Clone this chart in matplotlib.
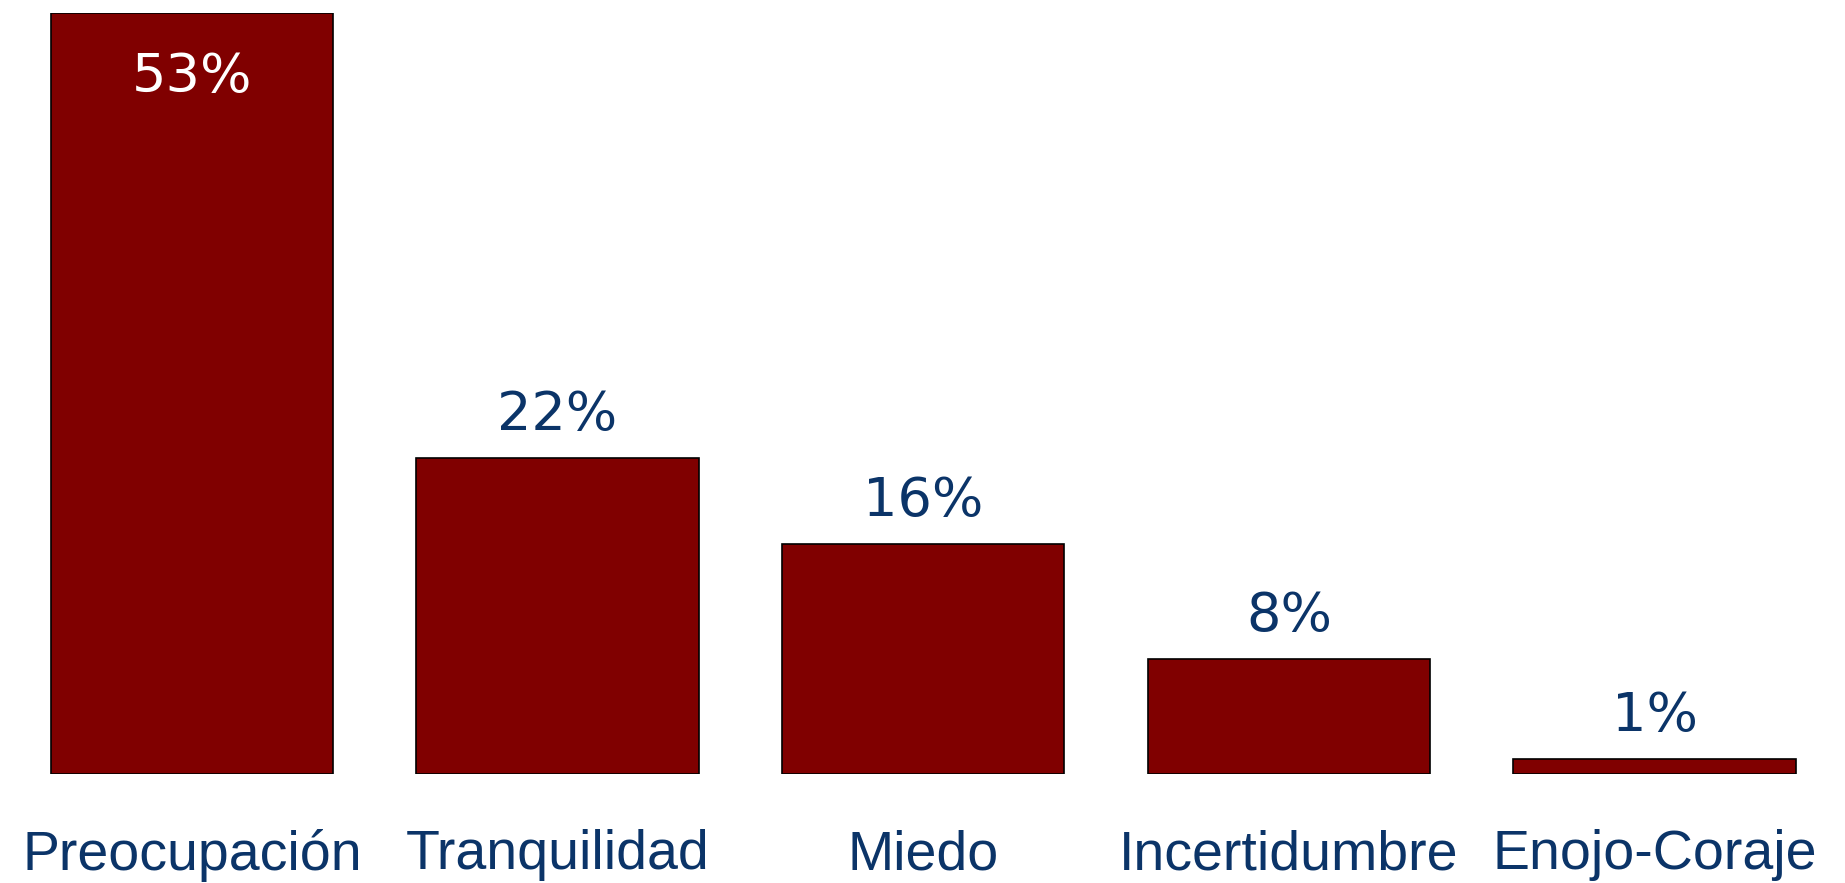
import matplotlib
matplotlib.use('Agg')
import matplotlib.pyplot as plt

categories = ['Preocupación', 'Tranquilidad', 'Miedo', 'Incertidumbre', 'Enojo-Coraje']
values = [53, 22, 16, 8, 1]
value_labels = ['53%', '22%', '16%', '8%', '1%']

bar_color = '#800000'
text_color = '#0B3468'

fig = plt.figure(figsize=(18.45, 8.83), dpi=100)
# axes placed so bars line up with the reference
ax = fig.add_axes([9/1845, (883-773.5)/883, 1828.5/1845, 760.5/883])

x = range(len(categories))
bars = ax.bar(x, values, width=0.772, color=bar_color, edgecolor='black', linewidth=1.2)

ax.set_xlim(-0.5, 4.5)
ax.set_ylim(0, 53)

for i, (b, lab) in enumerate(zip(bars, value_labels)):
	h = b.get_height()
	if i == 0:
		# biggest bar gets its label inside, in white
		ax.annotate(lab, (b.get_x()+b.get_width()/2, h), xytext=(0, -57), textcoords='offset points',
			ha='center', va='baseline', color='white', fontsize=39, family='DejaVu Sans')
	else:
		ax.annotate(lab, (b.get_x()+b.get_width()/2, h), xytext=(0, 20), textcoords='offset points',
			ha='center', va='baseline', color=text_color, fontsize=39, family='DejaVu Sans')

ax.set_xticks(list(x))
ax.set_xticklabels(categories, fontsize=40, color=text_color, family='Liberation Sans')
ax.tick_params(axis='x', length=0, pad=40)
ax.set_yticks([])
for s in ax.spines.values():
	s.set_visible(False)

fig.savefig('out.png', dpi=100, facecolor='white')
